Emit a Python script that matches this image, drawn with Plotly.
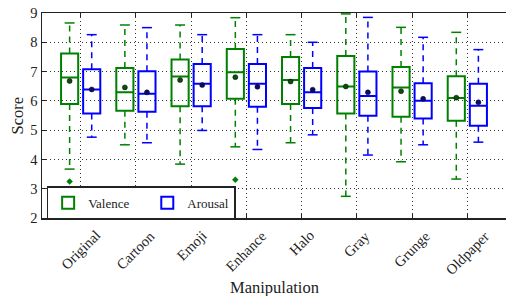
import plotly.graph_objects as go

categories = ['Original', 'Cartoon', 'Emoji', 'Enhance', 'Halo', 'Gray', 'Grunge', 'Oldpaper']

# Valence statistics
v_upper = [8.66, 8.59, 8.59, 8.84, 8.26, 8.97, 8.51, 8.34]
v_q3 = [7.62, 7.12, 7.41, 7.77, 7.50, 7.53, 7.16, 6.84]
v_med = [6.80, 6.29, 6.83, 6.98, 6.71, 6.49, 6.46, 6.10]
v_mean = [6.68, 6.46, 6.71, 6.81, 6.66, 6.49, 6.33, 6.11]
v_q1 = [5.89, 5.66, 5.82, 6.07, 5.89, 5.57, 5.46, 5.32]
v_lower = [3.67, 4.50, 3.84, 4.43, 4.57, 2.74, 3.92, 3.33]
v_outlier_cat = ['Original', 'Enhance']
v_outlier_val = [3.25, 3.31]

# Arousal statistics
a_upper = [8.26, 8.50, 8.26, 8.26, 8.00, 8.85, 8.17, 7.75]
a_q3 = [7.08, 7.01, 7.26, 7.26, 7.12, 7.00, 6.60, 6.58]
a_med = [6.39, 6.24, 6.58, 6.58, 6.29, 6.17, 6.00, 5.83]
a_mean = [6.39, 6.29, 6.54, 6.48, 6.38, 6.29, 6.07, 5.95]
a_q1 = [5.57, 5.63, 5.82, 5.80, 5.76, 5.49, 5.40, 5.15]
a_lower = [4.76, 4.57, 4.99, 4.34, 4.84, 4.15, 4.50, 4.59]

y_ticks = [2, 3, 4, 5, 6, 7, 8, 9]

GREEN = '#008000'
BLUE = '#0000ff'
FONT = 'Liberation Serif'
TXT = '#222'
OFFSET = 0.2
BOXW = 0.31
CAPHALF = 0.09
NBSP = '\u00a0'

fig = go.Figure()


def add_series(name, color, dotcolor, offset, upper, q3, med, mean, q1, lower):
    pos = [i + offset for i in range(len(categories))]
    fig.add_trace(go.Box(
        name=name, x=pos, q1=q1, median=med, q3=q3,
        lowerfence=q1, upperfence=q3, width=BOXW, whiskerwidth=0,
        fillcolor='rgba(255,255,255,0)', line=dict(color=color, width=2),
        showlegend=True, hoverinfo='skip'))
    wx, wy, cx, cy = [], [], [], []
    for p, u, t, b, l in zip(pos, upper, q3, q1, lower):
        wx += [p, p, None, p, p, None]
        wy += [t, u, None, b, l, None]
        cx += [p - CAPHALF, p + CAPHALF, None, p - CAPHALF, p + CAPHALF, None]
        cy += [u, u, None, l, l, None]
    fig.add_trace(go.Scatter(x=wx, y=wy, mode='lines', showlegend=False,
                             line=dict(color=color, width=1.5, dash='6px,5px')))
    fig.add_trace(go.Scatter(x=cx, y=cy, mode='lines', showlegend=False,
                             line=dict(color=color, width=1.5)))
    fig.add_trace(go.Scatter(x=pos, y=mean, mode='markers', showlegend=False,
                             marker=dict(color=dotcolor, size=5,
                                         line=dict(color='black', width=0.5))))


add_series('Valence' + NBSP * 4, GREEN, '#0b4d0b', -OFFSET,
           v_upper, v_q3, v_med, v_mean, v_q1, v_lower)
add_series('Arousal', BLUE, '#0b0b6e', OFFSET,
           a_upper, a_q3, a_med, a_mean, a_q1, a_lower)

fig.add_trace(go.Scatter(
    x=[categories.index(c) - OFFSET for c in v_outlier_cat], y=v_outlier_val,
    mode='markers', showlegend=False,
    marker=dict(symbol='diamond', color=GREEN, size=5)))

# rotated category labels, centred under each tick (matplotlib style)
annotations = []
for i, c in enumerate(categories):
    annotations.append(dict(
        text=c, x=i, xref='x', y=0, yref='paper', yshift=-7,
        xanchor='center', yanchor='top', textangle=-45, showarrow=False,
        font=dict(family=FONT, size=14.5, color=TXT)))
annotations.append(dict(
    text='Manipulation', x=0.5, xref='paper', y=0, yref='paper', yshift=-69,
    xanchor='center', yanchor='middle', showarrow=False,
    font=dict(family=FONT, size=16.5, color=TXT)))
annotations.append(dict(
    text='Score', x=0, xref='paper', xshift=-25, y=0.5, yref='paper',
    xanchor='center', yanchor='middle', textangle=-90, showarrow=False,
    font=dict(family=FONT, size=16.5, color=TXT)))

fig.update_layout(
    width=506, height=296,
    margin=dict(l=42, r=0, t=13, b=78, autoexpand=False),
    paper_bgcolor='white', plot_bgcolor='white',
    font=dict(family=FONT, size=13, color=TXT),
    annotations=annotations,
    legend=dict(orientation='h', x=0.01, y=-0.006, xanchor='left', yanchor='bottom',
                bordercolor='#222', borderwidth=1.5, bgcolor='white',
                font=dict(family=FONT, size=13), itemwidth=30,
                tracegroupgap=0),
)

fig.update_xaxes(
    range=[-0.7, 7.7], tickmode='array', tickvals=list(range(len(categories))),
    showticklabels=False, automargin=False,
    showline=True, linecolor='#222', linewidth=1.5, mirror='ticks',
    ticks='inside', ticklen=4, tickcolor='#222',
    showgrid=True, gridcolor='#333', gridwidth=1, griddash='1px,3px',
    zeroline=False)

fig.update_yaxes(
    range=[2, 9], tickmode='array', tickvals=y_ticks,
    tickfont=dict(family=FONT, size=14.5, color=TXT), automargin=False,
    ticklabeloverflow='allow',
    showline=True, linecolor='#222', linewidth=1.5, mirror=False,
    ticks='inside', ticklen=4, tickcolor='#222',
    showgrid=True, gridcolor='#333', gridwidth=1, griddash='1px,3px',
    zeroline=False)

# remove the default 8px page margin so the figure fills the window exactly
fig.write_html('out.html', config={'displayModeBar': False, 'staticPlot': True},
               post_script="document.body.style.margin='0';document.body.style.overflow='hidden';")
